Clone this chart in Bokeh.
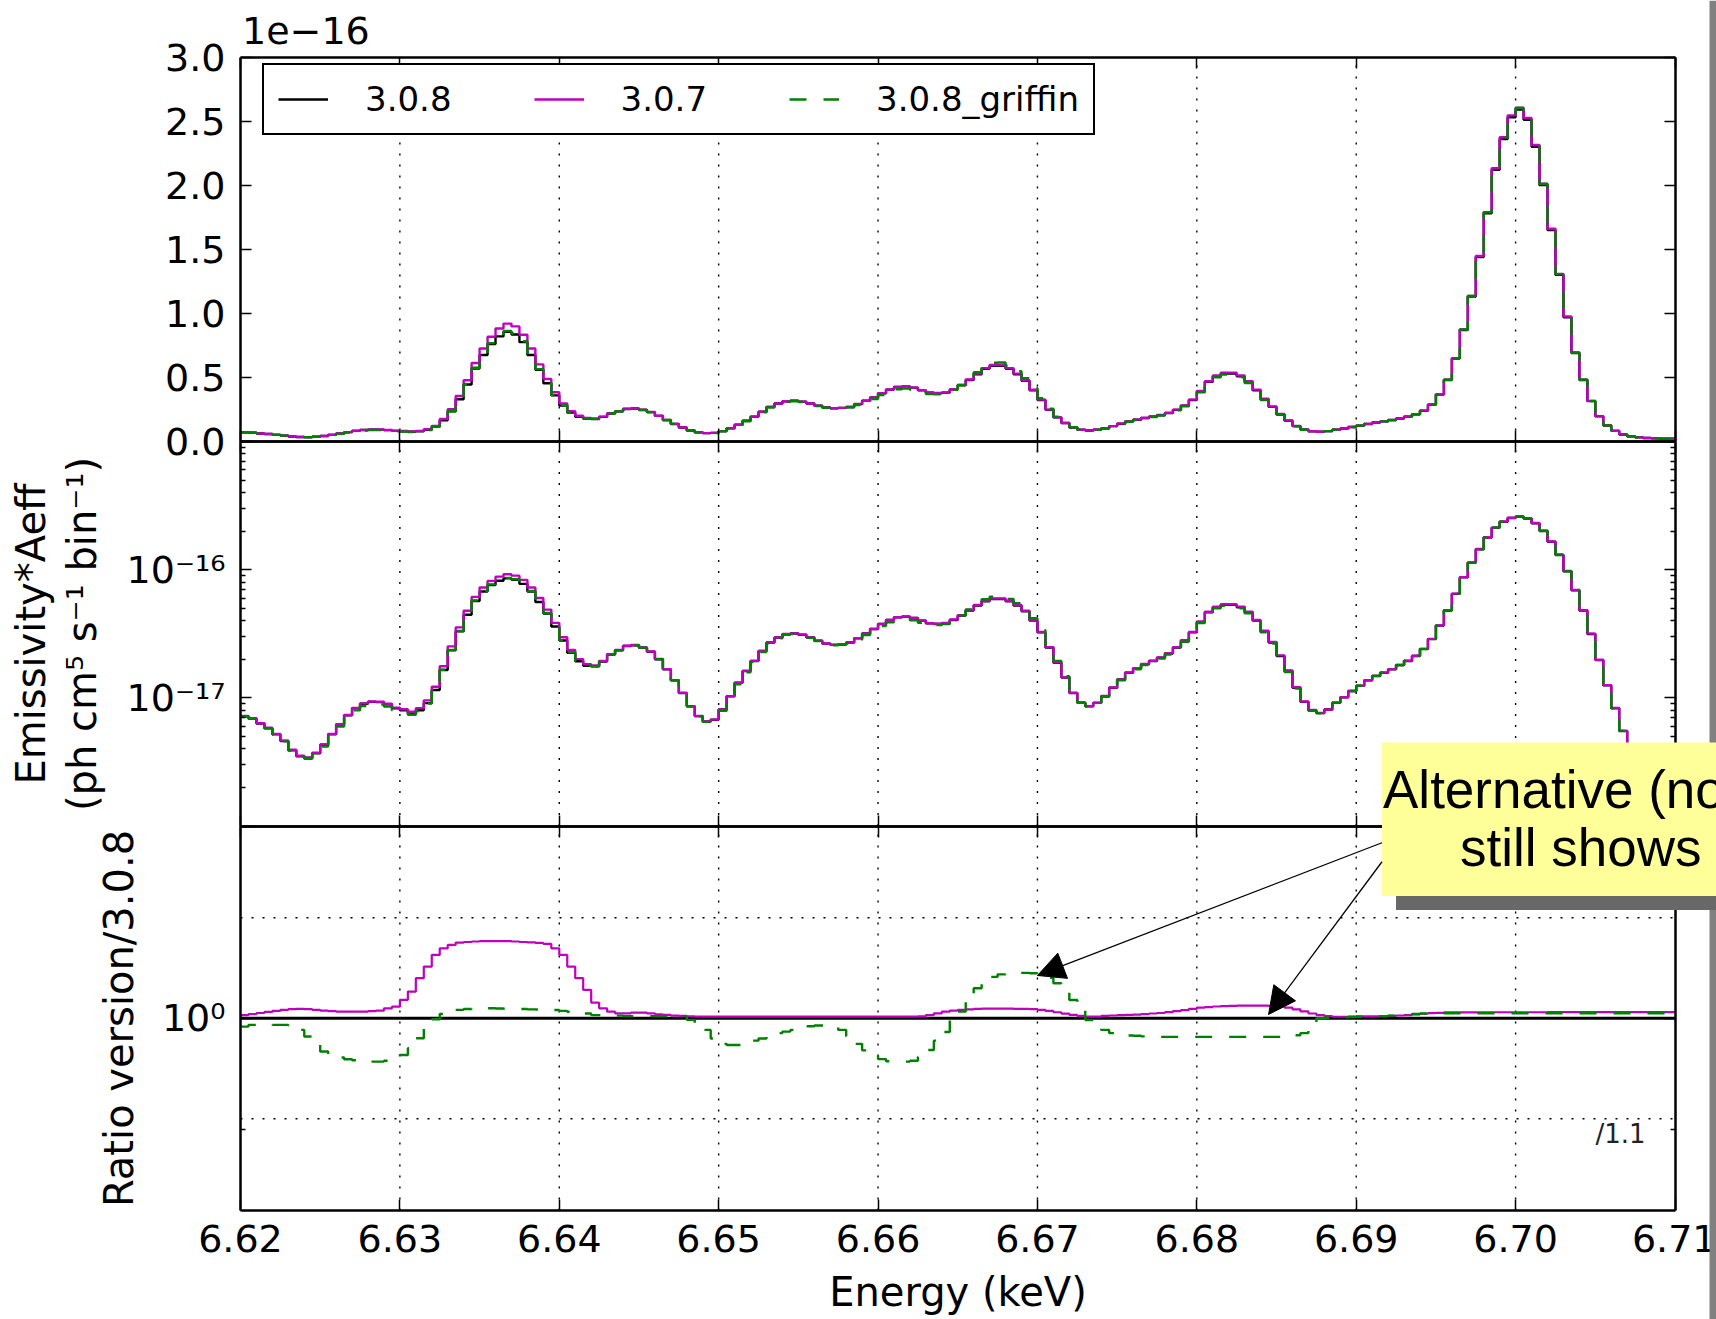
import math
from bokeh.plotting import figure
from bokeh.models import (Range1d, LogScale, LinearAxis, LogAxis, FixedTicker,
                          CustomJSTickFormatter, NumeralTickFormatter, Legend,
                          LegendItem, BoxAnnotation, Label, Arrow, NormalHead)
from bokeh.embed import file_html
from bokeh.resources import INLINE

# ------------------------------------------------------------------ data
bin_start = 6.620          # keV, left edge of first bin
bin_width = 0.0005         # keV
n_bins = 180
emis_unit = 1e-17          # values below are in units of 1e-17 ph cm^5 s^-1 bin^-1

emis_308 = [
    0.72, 0.69, 0.63, 0.58, 0.52, 0.46, 0.39, 0.35, 0.34, 0.37,
    0.43, 0.52, 0.62, 0.73, 0.83, 0.90, 0.93, 0.925, 0.89, 0.83,
    0.80, 0.76, 0.80, 0.91, 1.15, 1.65, 2.35, 3.30, 4.45, 5.70,
    6.75, 7.60, 8.20, 8.55, 8.35, 7.75, 6.75, 5.60, 4.55, 3.60,
    2.80, 2.25, 1.93, 1.78, 1.76, 1.92, 2.18, 2.35, 2.54, 2.57,
    2.46, 2.29, 2.00, 1.67, 1.37, 1.09, 0.86, 0.72, 0.656, 0.675,
    0.81, 1.03, 1.31, 1.62, 1.94, 2.32, 2.70, 2.96, 3.14, 3.18,
    3.11, 2.96, 2.79, 2.65, 2.59, 2.62, 2.70, 2.92, 3.18, 3.44,
    3.77, 4.05, 4.25, 4.30, 4.20, 4.00, 3.81, 3.77, 3.81, 4.05,
    4.38, 4.80, 5.25, 5.67, 5.91, 5.91, 5.67, 5.25, 4.74, 4.00,
    3.24, 2.47, 1.88, 1.44, 1.09, 0.914, 0.86, 0.914, 1.03, 1.20,
    1.39, 1.57, 1.70, 1.83, 1.94, 2.06, 2.22, 2.47, 2.79, 3.24,
    3.90, 4.65, 5.09, 5.31, 5.31, 5.09, 4.65, 4.00, 3.30, 2.70,
    2.12, 1.62, 1.20, 0.93, 0.80, 0.76, 0.81, 0.914, 1.01, 1.13,
    1.24, 1.37, 1.48, 1.57, 1.67, 1.80, 1.94, 2.12, 2.40, 2.87,
    3.66, 4.80, 6.47, 8.70, 11.3, 14.4, 17.8, 21.2, 23.6, 25.3,
    25.9, 25.1, 23.0, 20.0, 16.5, 13.0, 9.70, 6.90, 4.80, 3.15,
    1.97, 1.25, 0.83, 0.55, 0.40, 0.32, 0.27, 0.24, 0.22, 0.21,
]

ratio_307 = [
    1.003, 1.004, 1.005, 1.006, 1.007, 1.008, 1.0086, 1.0089, 1.0086, 1.008,
    1.0073, 1.0067, 1.0063, 1.0063, 1.0063, 1.0063, 1.0067, 1.0073, 1.0095, 1.011,
    1.0175, 1.0256, 1.0387, 1.0502, 1.0619, 1.0686, 1.072, 1.0744, 1.075, 1.0755,
    1.0758, 1.0758, 1.0758, 1.0758, 1.0755, 1.075, 1.0747, 1.074, 1.073, 1.0686,
    1.0619, 1.0502, 1.0387, 1.0272, 1.015, 1.0095, 1.0063, 1.0047, 1.0047, 1.0054,
    1.0054, 1.0047, 1.0038, 1.0032, 1.0025, 1.0022, 1.0019, 1.0016, 1.0016, 1.0016,
    1.0016, 1.0016, 1.0016, 1.0016, 1.0016, 1.0016, 1.0016, 1.0016, 1.0016, 1.0016,
    1.0016, 1.0016, 1.0016, 1.0016, 1.0016, 1.0016, 1.0016, 1.0016, 1.0016, 1.0016,
    1.0016, 1.0016, 1.0016, 1.0016, 1.0016, 1.0018, 1.003, 1.0047, 1.0063, 1.0073,
    1.008, 1.0085, 1.0089, 1.0092, 1.0092, 1.0092, 1.0092, 1.0089, 1.0089, 1.0086,
    1.008, 1.007, 1.0057, 1.0044, 1.0032, 1.0022, 1.0016, 1.0016, 1.0022, 1.0026,
    1.003, 1.0032, 1.0035, 1.004, 1.0045, 1.005, 1.0058, 1.0068, 1.0078, 1.009,
    1.0102, 1.0107, 1.0112, 1.0116, 1.0118, 1.012, 1.012, 1.012, 1.012, 1.0118,
    1.0112, 1.0102, 1.0085, 1.0065, 1.0045, 1.003, 1.002, 1.0014, 1.0014, 1.0016,
    1.0018, 1.0018, 1.0018, 1.002, 1.0022, 1.0026, 1.003, 1.0036, 1.0043, 1.0048,
    1.0052, 1.0055, 1.0055, 1.0055, 1.0056, 1.0056, 1.0056, 1.0057, 1.0057, 1.0057,
    1.0057, 1.0057, 1.0057, 1.0057, 1.0058, 1.0058, 1.0058, 1.0058, 1.0058, 1.0058,
    1.0058, 1.0058, 1.0058, 1.0058, 1.0058, 1.0058, 1.0058, 1.0058, 1.0058, 1.0058,
]

ratio_griffin = [
    0.9921, 0.9937, 0.994, 0.994, 0.9937, 0.9937, 0.993, 0.989, 0.9828, 0.976,
    0.969, 0.966, 0.9635, 0.9619, 0.961, 0.96, 0.9597, 0.9597, 0.9605, 0.963,
    0.9658, 0.972, 0.9812, 0.992, 0.9991, 1.004, 1.0065, 1.008, 1.0088, 1.0093,
    1.0095, 1.0095, 1.0093, 1.0091, 1.0089, 1.0088, 1.0085, 1.0083, 1.008, 1.0078,
    1.007, 1.0062, 1.0054, 1.0045, 1.003, 1.003, 1.003, 1.0025, 1.002, 1.002,
    1.002, 1.002, 1.002, 1.002, 1.002, 1.002, 0.9985, 0.9953, 0.989, 0.981,
    0.976, 0.975, 0.975, 0.9766, 0.979, 0.981, 0.984, 0.986, 0.9874, 0.989,
    0.991, 0.9925, 0.9931, 0.9931, 0.9925, 0.989, 0.983, 0.976, 0.97, 0.965,
    0.962, 0.96, 0.9597, 0.9597, 0.9605, 0.964, 0.9704, 0.979, 0.987, 1.0,
    1.0063, 1.0208, 1.0289, 1.036, 1.04, 1.0425, 1.0436, 1.044, 1.044, 1.0436,
    1.042, 1.039, 1.0338, 1.026, 1.0175, 1.008, 0.9984, 0.993, 0.989, 0.986,
    0.9843, 0.9838, 0.9835, 0.983, 0.9825, 0.9825, 0.9825, 0.9825, 0.9825, 0.9825,
    0.9825, 0.9825, 0.9825, 0.9825, 0.9825, 0.9825, 0.9825, 0.9825, 0.9825, 0.9825,
    0.9825, 0.983, 0.984, 0.986, 0.99, 1.0, 1.0005, 1.001, 1.001, 1.0012,
    1.0014, 1.0016, 1.0018, 1.002, 1.0025, 1.003, 1.0035, 1.004, 1.0045, 1.0048,
    1.0048, 1.0048, 1.0048, 1.0048, 1.0048, 1.0048, 1.0048, 1.0048, 1.0048, 1.0048,
    1.0048, 1.0048, 1.0048, 1.0048, 1.0048, 1.0048, 1.0048, 1.0048, 1.0048, 1.0048,
    1.0048, 1.0048, 1.0048, 1.0048, 1.0048, 1.0048, 1.0048, 1.0048, 1.0048, 1.0048,
]

series_labels = ["3.0.8", "3.0.7", "3.0.8_griffin"]
series_colors = ["black", "#bf00bf", "#008000"]
series_dash = ["solid", "solid", "17 17"]

energy_ticks = [6.62, 6.63, 6.64, 6.65, 6.66, 6.67, 6.68, 6.69, 6.70, 6.71]
top_ticks = [0.0, 0.5e-16, 1.0e-16, 1.5e-16, 2.0e-16, 2.5e-16, 3.0e-16]
top_lim = (0.0, 3.0e-16)
mid_lim = (1e-18, 1e-15)
mid_major = [1e-18, 1e-17, 1e-16, 1e-15]
mid_minor = [m * 10.0 ** e for e in (-18, -17, -16) for m in range(2, 10)]
ratio_lim = (1 / 1.2, 1.2)
ratio_major = [1.0]
ratio_minor = [0.9]
ratio_guides = [1.1, 1 / 1.1]

assert len(emis_308) == n_bins and len(ratio_307) == n_bins and len(ratio_griffin) == n_bins

edges = [round(bin_start + bin_width * i, 4) for i in range(n_bins + 1)]
v308 = [v * emis_unit for v in emis_308]
v307 = [b * r for b, r in zip(v308, ratio_307)]
vgrf = [b * r for b, r in zip(v308, ratio_griffin)]
r308 = [a / a for a in v308]
series_vals = [v308, v307, vgrf]
series_ratio = [r308, ratio_307, ratio_griffin]


def stepped(vals):
    return list(vals) + [vals[-1]]


# ------------------------------------------------------------------ layout
W, H = 1716, 1319
LEFT = 240.0
PLOT_RIGHT = 1674.5
panel_px = {"top": (56.5, 441.0), "mid": (441.0, 825.5), "bot": (825.5, 1210.0)}
E_MIN, E_MAX = energy_ticks[0], energy_ticks[-1]
px_per_kev = (PLOT_RIGHT - LEFT) / (E_MAX - E_MIN)
x_start = E_MIN - LEFT / px_per_kev
x_end = E_MIN + (W - LEFT) / px_per_kev


def lin_full(lo, hi, top, bot):
    per = (hi - lo) / (bot - top)
    return lo - (H - bot) * per, hi + top * per


def log_full(lo, hi, top, bot):
    a, b = math.log10(lo), math.log10(hi)
    per = (b - a) / (bot - top)
    return 10 ** (a - (H - bot) * per), 10 ** (b + top * per)


y0s, y0e = lin_full(*top_lim, *panel_px["top"])
y1s, y1e = log_full(*mid_lim, *panel_px["mid"])
y2s, y2e = log_full(*ratio_lim, *panel_px["bot"])


def X(px):
    return E_MIN + (px - LEFT) / px_per_kev


def LY(px):
    return y0e - px * (y0e - y0s) / H


p = figure(width=W, height=H, x_range=Range1d(x_start, x_end), y_range=Range1d(y0s, y0e),
           output_backend="svg", toolbar_location=None,
           x_axis_location=None, y_axis_location=None,
           min_border=0, min_border_left=0, min_border_right=0,
           min_border_top=0, min_border_bottom=0)
p.extra_y_ranges = {"log": Range1d(y1s, y1e), "ratio": Range1d(y2s, y2e)}
p.extra_y_scales = {"log": LogScale(), "ratio": LogScale()}
p.outline_line_color = None
p.background_fill_color = "white"
p.border_fill_color = "white"
p.grid.visible = False

FONT = "DejaVu Sans"
blank = CustomJSTickFormatter(code="return '';")
SUP = """const s = {'-':'\u207b','0':'\u2070','1':'\u00b9','2':'\u00b2','3':'\u00b3','4':'\u2074',
           '5':'\u2075','6':'\u2076','7':'\u2077','8':'\u2078','9':'\u2079'};"""
sup_fmt = CustomJSTickFormatter(code=SUP + """
const e = Math.round(Math.log10(tick));
return '10' + String(e).split('').map(c => s[c]).join('');
""")
sup_fmt_mid = CustomJSTickFormatter(code=SUP + """
const e = Math.round(Math.log10(tick));
if (e < -17 || e > -16) { return ''; }
return '10' + String(e).split('').map(c => s[c]).join('');
""")
top_fmt = CustomJSTickFormatter(code="return (tick / 1e-16).toFixed(1);")


def add_axis(cls, side, loc, bounds, ticks, minor=(), fmt=None, rname="default",
             label=None, label_standoff=5, tick_standoff=15, label_line_height=1.2):
    ax = cls(fixed_location=loc, bounds=bounds,
             ticker=FixedTicker(ticks=list(ticks), minor_ticks=list(minor)),
             formatter=fmt if fmt is not None else blank,
             y_range_name=rname)
    ax.axis_line_color = "black"
    ax.axis_line_width = 2.5
    ax.major_tick_in = 11
    ax.major_tick_out = 0
    ax.minor_tick_in = 5
    ax.minor_tick_out = 0
    ax.major_tick_line_width = 1.5
    ax.minor_tick_line_width = 1.5
    ax.major_tick_line_color = "black"
    ax.minor_tick_line_color = "black"
    ax.major_label_text_font = FONT
    ax.major_label_text_font_size = "38px"
    ax.major_label_text_color = "black"
    ax.major_label_standoff = tick_standoff
    if label is not None:
        ax.axis_label = label
        ax.axis_label_text_font = FONT
        ax.axis_label_text_font_size = "40px"
        ax.axis_label_text_font_style = "normal"
        ax.axis_label_text_color = "black"
        ax.axis_label_text_line_height = label_line_height
        ax.axis_label_standoff = label_standoff
    p.add_layout(ax, side)
    return ax


# ---------- grid lines (dotted) per panel
grid_x = energy_ticks[1:-1]
for rname, (lo, hi) in (("default", top_lim), ("log", mid_lim), ("ratio", ratio_lim)):
    p.segment(x0=grid_x, x1=grid_x, y0=[lo] * len(grid_x), y1=[hi] * len(grid_x),
              line_color="black", line_width=1.4, line_dash="2 9", y_range_name=rname)
p.segment(x0=[E_MIN] * len(ratio_guides), x1=[E_MAX] * len(ratio_guides),
          y0=ratio_guides, y1=ratio_guides, line_color="black", line_width=1.6,
          line_dash="2 9", y_range_name="ratio")

# ---------- data
top_renderers = []
for vals, col, dash in zip(series_vals, series_colors, series_dash):
    r = p.step(x=edges, y=stepped(vals), mode="after", line_color=col, line_width=2.4,
               line_dash=dash)
    top_renderers.append(r)
for vals, col, dash in zip(series_vals, series_colors, series_dash):
    p.step(x=edges, y=stepped(vals), mode="after", line_color=col, line_width=2.4,
           line_dash=dash, y_range_name="log")
for vals, col, dash, lw in zip(series_ratio, series_colors, series_dash, [3.0, 2.2, 2.4]):
    p.step(x=edges, y=stepped(vals), mode="after", line_color=col, line_width=lw,
           line_dash=dash, y_range_name="ratio")

# ---------- axes / spines
xb = (E_MIN, E_MAX)
# top panel
add_axis(LinearAxis, "left", E_MIN, top_lim, top_ticks, fmt=top_fmt)
add_axis(LinearAxis, "right", E_MAX, top_lim, top_ticks)
add_axis(LinearAxis, "above", top_lim[1], xb, energy_ticks)
add_axis(LinearAxis, "below", top_lim[0], xb, energy_ticks)
# middle (log) panel
add_axis(LogAxis, "left", E_MIN, mid_lim, mid_major, mid_minor, fmt=sup_fmt_mid, rname="log",
         label="Emissivity*Aeff\n(ph cm\u2075 s\u207b\u00b9 bin\u207b\u00b9)", label_standoff=19,
         label_line_height=1.1)
add_axis(LogAxis, "right", E_MAX, mid_lim, mid_major, mid_minor, rname="log")
add_axis(LinearAxis, "above", mid_lim[1], xb, energy_ticks, rname="log")
add_axis(LinearAxis, "below", mid_lim[0], xb, energy_ticks, rname="log")
# ratio panel
add_axis(LogAxis, "left", E_MIN, ratio_lim, ratio_major, ratio_minor, fmt=sup_fmt, rname="ratio",
         label="Ratio version/3.0.8", label_standoff=17)
add_axis(LogAxis, "right", E_MAX, ratio_lim, ratio_major, ratio_minor, rname="ratio")
add_axis(LinearAxis, "above", ratio_lim[1], xb, energy_ticks, rname="ratio")
add_axis(LinearAxis, "below", ratio_lim[0], xb, energy_ticks, fmt=NumeralTickFormatter(format="0.00"),
         rname="ratio", label="Energy (keV)", label_standoff=14, tick_standoff=14)

# ---------- legend
legend = Legend(items=[LegendItem(label=l, renderers=[r]) for l, r in zip(series_labels, top_renderers)],
                location=(LEFT + 22, H - 135), orientation="horizontal",
                border_line_color="black", border_line_width=2.5, border_line_alpha=1.0,
                background_fill_color="white", background_fill_alpha=1.0,
                label_text_font=FONT, label_text_font_size="34px", label_text_color="black",
                glyph_width=50, glyph_height=20, label_standoff=37, spacing=82,
                padding=14, margin=0)
p.add_layout(legend)

# ---------- texts in the plot
p.add_layout(Label(x=X(241.5), y=LY(30), text="1e\u221216", text_font=FONT, text_font_size="38px",
                   text_color="black", text_baseline="alphabetic", text_align="left"))
p.add_layout(Label(x=X(1595), y=LY(1133), text="/1.1", text_font=FONT, text_font_size="26px",
                   text_color="#222222", text_baseline="alphabetic", text_align="left"))
p.add_layout(Label(x=X(1593), y=LY(899), text="x1.1", text_font=FONT, text_font_size="26px",
                   text_color="#222222", text_baseline="alphabetic", text_align="left"))

# ---------- page edge (grey strip) and the yellow call-out on top of it
p.add_layout(BoxAnnotation(left=X(1709), right=x_end, bottom=y0s, top=y0e,
                           fill_color="#808080", fill_alpha=1.0, line_color=None))
note = dict(left=1381.5, top=742.0, bottom=895.5, shadow=14.0)
p.add_layout(BoxAnnotation(left=X(note["left"] + note["shadow"]), right=x_end,
                           top=LY(note["top"] + note["shadow"]), bottom=LY(note["bottom"] + note["shadow"]),
                           fill_color="#686868", fill_alpha=1.0, line_color=None))
p.add_layout(BoxAnnotation(left=X(note["left"]), right=x_end, top=LY(note["top"]), bottom=LY(note["bottom"]),
                           fill_color="#ffff99", fill_alpha=1.0, line_color=None))
p.add_layout(Label(x=X(1382.5), y=LY(788.5), text="Alternative (no", text_font="Liberation Sans",
                   text_font_size="53px", text_color="black", text_baseline="alphabetic", text_align="left"))
p.add_layout(Label(x=X(1459.5), y=LY(847), text="still shows", text_font="Liberation Sans",
                   text_font_size="53px", text_color="black", text_baseline="alphabetic", text_align="left"))

arrow_start_x = X(note["left"])
arrows = [((arrow_start_x, 1.1811), (6.6700, 1.0414)),
          ((arrow_start_x, 1.1600), (6.6845, 1.0036))]
for (xs, ys), (xe, ye) in arrows:
    p.add_layout(Arrow(end=NormalHead(size=27, fill_color="black", line_color="black", line_width=1),
                       x_start=xs, y_start=ys, x_end=xe, y_end=ye,
                       line_color="black", line_width=1.3, y_range_name="ratio"))

open("out.html", "w").write(file_html(p, INLINE))
